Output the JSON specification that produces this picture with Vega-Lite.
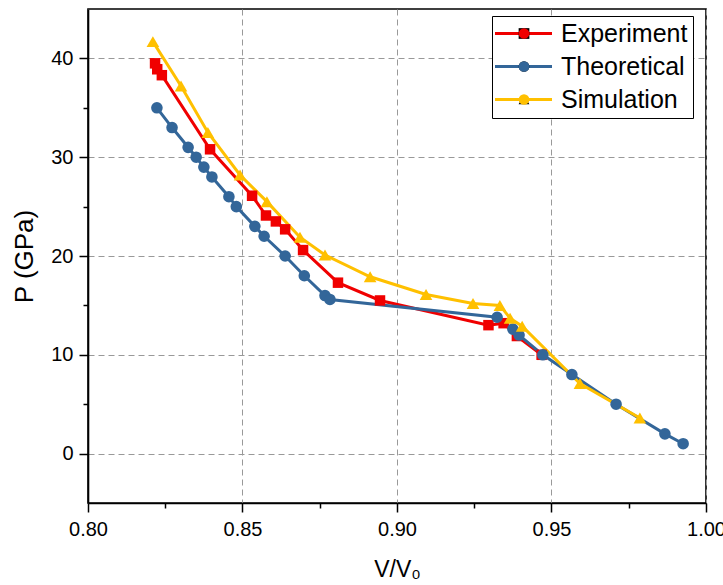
{
  "$schema": "https://vega.github.io/schema/vega-lite/v6.json",
  "width": 618,
  "height": 494,
  "autosize": {"type": "none"},
  "padding": {"left": 88, "top": 9, "right": 17, "bottom": 82},
  "background": "white",
  "config": {
    "view": {"stroke": "black", "strokeWidth": 1.6},
    "font": "Liberation Sans",
    "axis": {"labelFont": "Liberation Sans", "titleFont": "Liberation Sans", "labelColor": "black", "titleColor": "black", "titleFontWeight": "normal", "domainColor": "black", "tickColor": "black", "domainWidth": 1.6, "tickWidth": 1.5}
  },
  "data": {"values": [
    {"s": "Experiment", "v": 0.8217, "p": 39.5},
    {"s": "Experiment", "v": 0.8224, "p": 38.9},
    {"s": "Experiment", "v": 0.8239, "p": 38.3},
    {"s": "Experiment", "v": 0.8395, "p": 30.8},
    {"s": "Experiment", "v": 0.8531, "p": 26.1},
    {"s": "Experiment", "v": 0.8576, "p": 24.1},
    {"s": "Experiment", "v": 0.8608, "p": 23.5},
    {"s": "Experiment", "v": 0.8638, "p": 22.7},
    {"s": "Experiment", "v": 0.8696, "p": 20.6},
    {"s": "Experiment", "v": 0.8809, "p": 17.3},
    {"s": "Experiment", "v": 0.8945, "p": 15.5},
    {"s": "Experiment", "v": 0.9296, "p": 13.0},
    {"s": "Experiment", "v": 0.9345, "p": 13.2},
    {"s": "Experiment", "v": 0.9388, "p": 11.9},
    {"s": "Experiment", "v": 0.9468, "p": 10.0},
    {"s": "Theoretical", "v": 0.8223, "p": 35.0},
    {"s": "Theoretical", "v": 0.8272, "p": 33.0},
    {"s": "Theoretical", "v": 0.8324, "p": 31.0},
    {"s": "Theoretical", "v": 0.835, "p": 30.0},
    {"s": "Theoretical", "v": 0.8375, "p": 29.0},
    {"s": "Theoretical", "v": 0.8401, "p": 28.0},
    {"s": "Theoretical", "v": 0.8456, "p": 26.0},
    {"s": "Theoretical", "v": 0.848, "p": 25.0},
    {"s": "Theoretical", "v": 0.854, "p": 23.0},
    {"s": "Theoretical", "v": 0.857, "p": 22.0},
    {"s": "Theoretical", "v": 0.8638, "p": 20.0},
    {"s": "Theoretical", "v": 0.870, "p": 18.0},
    {"s": "Theoretical", "v": 0.8767, "p": 16.0},
    {"s": "Theoretical", "v": 0.8783, "p": 15.6},
    {"s": "Theoretical", "v": 0.9324, "p": 13.8},
    {"s": "Theoretical", "v": 0.9375, "p": 12.6},
    {"s": "Theoretical", "v": 0.9395, "p": 12.0},
    {"s": "Theoretical", "v": 0.9472, "p": 10.0},
    {"s": "Theoretical", "v": 0.9566, "p": 8.0},
    {"s": "Theoretical", "v": 0.9709, "p": 5.0},
    {"s": "Theoretical", "v": 0.9867, "p": 2.0},
    {"s": "Theoretical", "v": 0.9926, "p": 1.0},
    {"s": "Simulation", "v": 0.8210, "p": 41.7},
    {"s": "Simulation", "v": 0.8301, "p": 37.2},
    {"s": "Simulation", "v": 0.8388, "p": 32.5},
    {"s": "Simulation", "v": 0.8492, "p": 28.2},
    {"s": "Simulation", "v": 0.8579, "p": 25.5},
    {"s": "Simulation", "v": 0.8686, "p": 21.9},
    {"s": "Simulation", "v": 0.8767, "p": 20.1},
    {"s": "Simulation", "v": 0.8913, "p": 17.9},
    {"s": "Simulation", "v": 0.9094, "p": 16.1},
    {"s": "Simulation", "v": 0.9246, "p": 15.2},
    {"s": "Simulation", "v": 0.9333, "p": 15.0},
    {"s": "Simulation", "v": 0.9366, "p": 13.7},
    {"s": "Simulation", "v": 0.9405, "p": 12.9},
    {"s": "Simulation", "v": 0.9592, "p": 7.1},
    {"s": "Simulation", "v": 0.9786, "p": 3.6}
  ]},
  "resolve": {"axis": {"x": "independent", "y": "independent"}},
  "layer": [
    {
      "mark": {"type": "line", "strokeWidth": 3},
      "encoding": {
        "x": {"field": "v", "type": "quantitative", "scale": {"domain": [0.8, 1.0], "nice": false, "zero": false},
          "axis": {"orient": "bottom", "title": "V/V₀", "values": [0.8, 0.85, 0.9, 0.95, 1.0], "format": ".2f", "labelFontSize": 20, "titleFontSize": 23, "tickSize": 9, "labelPadding": 7, "titlePadding": 19, "grid": true, "gridDash": [6, 4], "gridColor": "#999", "gridWidth": 1, "labelFlush": false}},
        "y": {"field": "p", "type": "quantitative", "scale": {"domain": [-5, 45], "nice": false, "zero": false},
          "axis": {"orient": "left", "title": "P (GPa)", "values": [0, 10, 20, 30, 40], "labelFontSize": 20, "titleFontSize": 26, "tickSize": 9, "labelPadding": 6, "titlePadding": 13, "grid": true, "gridDash": [6, 4], "gridColor": "#999", "gridWidth": 1}},
        "color": {"field": "s", "type": "nominal", "scale": {"domain": ["Experiment", "Theoretical", "Simulation"], "range": ["#F00000", "#336699", "#FFC000"]},
          "legend": {"orient": "none", "legendX": 404, "legendY": 7, "title": null, "labelFontSize": 25, "labelFont": "Liberation Sans", "labelColor": "black", "padding": 5, "strokeColor": "black", "fillColor": "white", "symbolType": "M-4.75,0H4.75", "symbolSize": 144, "symbolStrokeWidth": 3, "symbolOffset": 14, "labelOffset": 25, "rowPadding": 7}}
      }
    },
    {
      "mark": {"type": "point", "filled": true, "opacity": 1},
      "encoding": {
        "x": {"field": "v", "type": "quantitative",
          "axis": {"orient": "bottom", "title": null, "values": [0.825, 0.875, 0.925, 0.975], "labels": false, "domain": false, "grid": false, "tickSize": 5}},
        "y": {"field": "p", "type": "quantitative",
          "axis": {"orient": "left", "title": null, "values": [5, 15, 25, 35], "labels": false, "domain": false, "grid": false, "tickSize": 5}},
        "fill": {"field": "s", "type": "nominal", "sort": ["Experiment", "Theoretical", "Simulation"], "scale": {"range": ["#F00000", "#336699", "#FFC000"]},
          "legend": {"orient": "none", "legendX": 404, "legendY": 7, "title": null, "labelFontSize": 25, "labelFont": "Liberation Sans", "labelColor": "transparent", "padding": 5, "symbolSize": 115, "symbolStrokeWidth": 0, "symbolOffset": 14.5, "labelOffset": 25, "rowPadding": 7}},
        "shape": {"field": "s", "type": "nominal", "sort": ["Experiment", "Theoretical", "Simulation"], "scale": {"range": ["square", "circle", "triangle-up"]},
          "legend": {"orient": "none", "legendX": 404, "legendY": 7, "title": null, "labelFontSize": 25, "labelFont": "Liberation Sans", "labelColor": "transparent", "padding": 5, "symbolSize": 115, "symbolStrokeWidth": 0, "symbolOffset": 14.5, "labelOffset": 25, "rowPadding": 7}},
        "size": {"field": "s", "type": "nominal", "sort": ["Experiment", "Theoretical", "Simulation"], "scale": {"range": [110, 160, 150]}, "legend": null}
      }
    }
  ]
}
